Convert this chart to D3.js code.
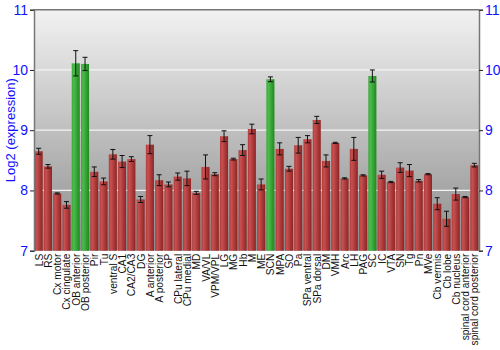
<!DOCTYPE html>
<html>
<head>
<meta charset="utf-8">
<script src="https://cdn.jsdelivr.net/npm/d3@7"></script>
<style>
  body { margin: 0; background: #fff; }
  svg { display: block; font-family: "Liberation Sans", Arial, sans-serif; }
</style>
</head>
<body>
<svg id="chart" width="500" height="350"></svg>
<script>
const regions = ['LS', 'RS', 'Cx motor', 'Cx cingulate', 'OB anterior', 'OB posterior', 'Pir', 'Tu', 'ventral S', 'CA1',
    'CA2/CA3', 'DG', 'A anterior', 'A posterior', 'GP', 'CPu lateral', 'CPu medial', 'MD', 'VA/VL', 'VPM/VPL',
    'LG', 'MG', 'Hb', 'M', 'ME', 'SCN', 'MPA', 'SO', 'Pa', 'SPa ventral',
    'SPa dorsal', 'DM', 'VMH', 'Arc', 'LH', 'PAG', 'SC', 'IC', 'VTA', 'SN',
    'Tg', 'Pn', 'MVe', 'Cb vermis', 'Cb lobe', 'Cb nucleus', 'spinal cord anterior', 'spinal cord posterior'];
const expression = [8.65, 8.40, 7.95, 7.76, 10.11, 10.10, 8.31, 8.15, 8.60, 8.48,
    8.52, 7.85, 8.76, 8.17, 8.10, 8.23, 8.20, 7.96, 8.39, 8.27,
    8.90, 8.52, 8.67, 9.02, 8.10, 9.845, 8.69, 8.36, 8.75, 8.85,
    9.17, 8.49, 8.79, 8.20, 8.69, 8.25, 9.90, 8.26, 8.14, 8.38,
    8.33, 8.16, 8.27, 7.78, 7.53, 7.94, 7.89, 8.42];
const errors = [0.05, 0.03, 0.01, 0.055, 0.21, 0.11, 0.08, 0.055, 0.08, 0.10,
    0.04, 0.05, 0.15, 0.09, 0.04, 0.06, 0.12, 0.025, 0.20, 0.025,
    0.09, 0.015, 0.09, 0.08, 0.09, 0.04, 0.10, 0.04, 0.13, 0.06,
    0.06, 0.10, 0.01, 0.01, 0.19, 0.01, 0.10, 0.06, 0.01, 0.08,
    0.10, 0.02, 0.01, 0.10, 0.125, 0.10, 0.01, 0.03];
const highlighted = ['OB anterior', 'OB posterior', 'SCN', 'SC'];
const yTicks = [7, 8, 9, 10, 11];

const data = regions.map((name, i) => ({ name, value: expression[i], err: errors[i], green: highlighted.includes(name) }));

const plotLeft = 34, plotRight = 479, plotTop = 9.7, plotBottom = 250.7;
const svg = d3.select('#chart');
const x = d3.scaleBand().domain(regions).range([plotLeft, plotRight]).paddingInner(0.13).paddingOuter(0.07);
const y = d3.scaleLinear().domain([7, 11]).range([plotBottom, plotTop]);

const defs = svg.append('defs');
const bg = defs.append('linearGradient').attr('id', 'bg').attr('x1', 0).attr('y1', 0).attr('x2', 0).attr('y2', 1);
bg.append('stop').attr('offset', 0).attr('stop-color', '#f2f2f2');
bg.append('stop').attr('offset', 1).attr('stop-color', '#8c8c8c');
const barGrad = (id, light, mid, dark) => {
    const g = defs.append('linearGradient').attr('id', id).attr('x1', 0).attr('y1', 0).attr('x2', 1).attr('y2', 0);
    g.append('stop').attr('offset', 0).attr('stop-color', mid);
    g.append('stop').attr('offset', 0.25).attr('stop-color', light);
    g.append('stop').attr('offset', 1).attr('stop-color', dark);
};
barGrad('red', '#c85050', '#b03a3a', '#8e2424');
barGrad('green', '#4cbb4c', '#38a838', '#1f8a1f');

svg.append('rect').attr('x', plotLeft).attr('y', plotTop).attr('width', plotRight - plotLeft).attr('height', plotBottom - plotTop).attr('fill', 'url(#bg)');

svg.append('g').selectAll('line').data(yTicks.slice(1, -1)).join('line')
    .attr('x1', plotLeft).attr('x2', plotRight).attr('y1', d => y(d)).attr('y2', d => y(d))
    .attr('stroke', '#f4f4f4').attr('stroke-width', 1.2);

svg.append('g').selectAll('rect').data(data).join('rect')
    .attr('x', d => x(d.name)).attr('width', x.bandwidth())
    .attr('y', d => y(d.value)).attr('height', d => y(7) - y(d.value))
    .attr('fill', d => d.green ? 'url(#green)' : 'url(#red)');

const eb = svg.append('g').attr('stroke', '#111').attr('stroke-width', 1);
eb.selectAll('line.v').data(data).join('line').attr('class', 'v')
    .attr('x1', d => x(d.name) + x.bandwidth() / 2).attr('x2', d => x(d.name) + x.bandwidth() / 2)
    .attr('y1', d => y(d.value + d.err)).attr('y2', d => y(d.value - d.err));
['top', 'bot'].forEach(k => {
    eb.selectAll(`line.${k}`).data(data).join('line').attr('class', k)
        .attr('x1', d => x(d.name) + x.bandwidth() / 2 - 2.5).attr('x2', d => x(d.name) + x.bandwidth() / 2 + 2.5)
        .attr('y1', d => y(k === 'top' ? d.value + d.err : d.value - d.err))
        .attr('y2', d => y(k === 'top' ? d.value + d.err : d.value - d.err));
});

const leftAxis = svg.append('g').attr('transform', `translate(${plotLeft},0)`)
    .call(d3.axisLeft(y).tickValues(yTicks).tickSize(4).tickPadding(2).tickFormat(d3.format('d')));
const rightAxis = svg.append('g').attr('transform', `translate(${plotRight},0)`)
    .call(d3.axisRight(y).tickValues(yTicks).tickSize(4).tickPadding(2).tickFormat(d3.format('d')));
[leftAxis, rightAxis].forEach(a => {
    a.select('.domain').attr('stroke', '#777').attr('stroke-width', 1.5);
    a.selectAll('.tick line').attr('stroke', '#222');
    a.selectAll('.tick text').attr('fill', '#1010ff').style('font-size', '14px').style('font-family', '"Liberation Sans", Arial, sans-serif');
});
svg.append('line').attr('x1', plotLeft).attr('x2', plotRight).attr('y1', plotTop).attr('y2', plotTop).attr('stroke', '#777').attr('stroke-width', 1.5);

svg.append('g').selectAll('text').data(data).join('text')
    .attr('transform', d => `translate(${x(d.name) + x.bandwidth() / 2 + 4},${plotBottom + 3}) rotate(-90)`)
    .attr('text-anchor', 'end').attr('font-size', 10.2).attr('fill', '#111')
    .text(d => d.name);

svg.append('text').attr('transform', `translate(15,${(plotTop + plotBottom) / 2}) rotate(-90)`)
    .attr('text-anchor', 'middle').attr('fill', '#1010ff').attr('font-size', 13)
    .text('Log2 (expression)');
</script>
</body>
</html>
